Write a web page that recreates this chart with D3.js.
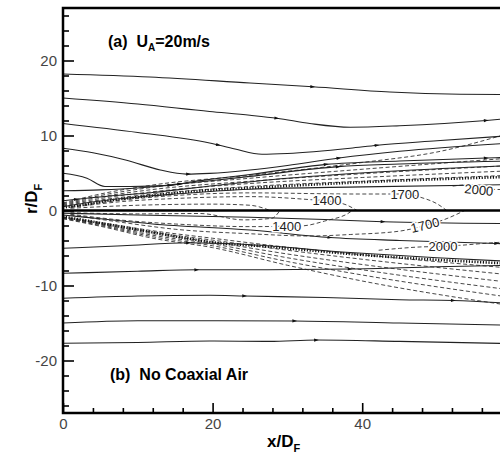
<!DOCTYPE html>
<html>
<head>
<meta charset="utf-8">
<script src="https://cdn.jsdelivr.net/npm/d3@7"></script>
<style>
body { margin: 0; background: #fff; }
svg { display: block; font-family: "Liberation Sans", Arial, sans-serif; }
</style>
</head>
<body>
<div id="chart"></div>
<script>
const W = 500, H = 455;

// tick values (60 lies outside the visible area)
const xMajor = [0, 20, 40];
const xMinor = [4, 8, 12, 16, 24, 28, 32, 36, 44, 48, 52, 56];
const yMajor = [-20, -10, 0, 10, 20];
const yMinor = [-26, -24, -22, -18, -16, -14, -12, -8, -6, -4, -2, 2, 4, 6, 8, 12, 14, 16, 18, 22, 24, 26];

// streamlines, upper half (a) with coaxial air
const sA1 = [[0,18.2],[11.6,17.8],[25,17.0],[33.4,16.5],[43.7,15.8],[53.1,15.5],[60,15.45]];
const sA2 = [[0,15.0],[10,14.2],[19.6,13.2],[25,12.7],[28.6,12.3],[33,11.6],[38.4,11.1],[45,11.3],[56.6,12.0],[60,12.3]];
const sA3 = [[0,11.6],[10,10.4],[19.6,9.0],[23,8.2],[26.6,7.5],[30,7.6],[38.4,8.3],[42,8.7],[50,9.3],[60,10.0]];
const sA4 = [[0,8.3],[4,7.7],[8.5,6.7],[13,5.4],[16.5,4.85],[19.6,4.95],[25,5.4],[30,6.0],[36.9,7.0],[45,7.9],[60,9.0]];
const sA5 = [[0,4.96],[3.2,4.3],[5.6,3.2],[9,3.2],[14.3,3.35],[17,3.8],[20,4.2],[25,4.8],[35.2,6.15],[45,6.6],[56.6,7.0],[60,7.1]];
const sA6 = [[0,2.64],[5,2.75],[10,3.0],[15.6,3.55],[20,4.0],[25,4.55],[36.8,5.85],[45,6.2],[60,6.6]];
const sA7 = [[0,1.3],[1.8,1.5],[6,1.9],[12,2.4],[20,3.3],[30,4.3],[45,5.3],[60,6.0]];
const sJ1 = [[0,0.5],[3,1.0],[8,1.6],[15,2.2],[25,2.83],[40,3.15],[60,3.45]];

// streamlines, lower half (b) no coaxial air
const sL1 = [[0,-0.35],[10,-0.6],[25,-0.9],[35,-1.2],[42.8,-1.5],[60,-1.75]];
const sL2 = [[0,-0.6],[5,-1.1],[12,-1.8],[25,-2.6],[35.7,-3.6],[45,-4.0],[58,-4.4],[60,-4.45]];
const sB1 = [[0,-5.03],[8,-4.7],[16.8,-4.3],[24,-4.5],[38.4,-5.6],[50,-6.3],[60,-6.8]];
const sB2 = [[0,-8.37],[10,-8.1],[17.9,-7.9],[25,-7.9],[38.4,-7.8],[50,-7.5],[60,-7.3]];
const sB3 = [[0,-11.7],[10,-11.4],[19.6,-11.3],[24.3,-11.4],[35,-11.6],[45,-11.9],[52.2,-12.0],[60,-12.4]];
const sB4 = [[0,-15.0],[10,-14.7],[19.6,-14.7],[31,-14.73],[45,-15.0],[60,-15.3]];
const sB5 = [[0,-17.7],[10,-17.6],[19.6,-17.4],[27.6,-17.45],[33.9,-17.27],[45,-17.45],[60,-17.75]];

// arrow positions (x) on each streamline
const arrA1 = [33.4], arrA2 = [28.6, 56.6], arrA3 = [20.8, 42], arrA4 = [16.8, 36.9];
const arrA5 = [14.3, 35.2, 56.6], arrA6 = [15.6, 36.8], arrA7 = [1.8], arrJ1 = [];
const arrL1 = [42.8], arrL2 = [35.7, 58], arrB1 = [16.8], arrB2 = [17.9, 38.4];
const arrB3 = [24.3, 52.2], arrB4 = [31], arrB5 = [33.9];

// stoichiometric (dotted) lines
const dotUpper = [[0,0.4],[3,0.8],[6,1.3],[12,2.0],[18,2.6],[25,3.0],[38.4,3.7],[60,4.5]];
const dotLower = [[0,-0.8],[6.3,-1.9],[12,-2.9],[16.5,-3.7],[19.6,-4.2],[27.2,-4.8],[38.4,-5.8],[60,-7.1]];

// isotherms (dashed), upper
const uf1 = [[0,0.6],[5,1.4],[12,2.2],[25,3.2],[40,3.9],[60,4.7]];
const uf2 = [[0,0.7],[5,1.6],[12,2.5],[25,3.6],[40,4.4],[60,5.3]];
const uf3 = [[0,0.8],[5,1.8],[12,2.8],[25,3.9],[40,4.9],[60,6.0]];
const uf4 = [[0,0.9],[5,2.0],[12,3.1],[25,4.3],[40,5.5],[60,7.0]];
const uf5 = [[0,1.0],[5,2.2],[12,3.4],[25,4.7],[40,6.4],[50,7.8],[60,10.4]];
const ui1 = [[1,0.3],[10,0.7],[20,0.85],[25,0.7],[27.7,0]];
const ui1400 = [[1,0.4],[8,1.2],[15,1.6],[25,1.85],[33,1.45],[36,1.2],[38,0.7],[39.3,0]];
const ui1700 = [[1,0.5],[8,1.4],[15,2.0],[25,2.35],[38.8,2.2],[45.7,2.2],[48,1.7],[50,0.9],[51.3,0]];
const ui2000 = [[52.1,3.25],[53.8,3.4],[55.5,2.9],[58.5,2.8],[60,2.8]];

// isotherms (dashed), lower
const lf1 = [[0,-0.85],[5,-1.6],[12,-2.7],[20,-3.7],[30,-4.9],[40,-5.9],[60,-7.7]];
const lf2 = [[0,-0.9],[5,-1.7],[12,-2.9],[20,-3.95],[30,-5.3],[40,-6.5],[60,-8.6]];
const lf3 = [[0,-0.95],[5,-1.8],[12,-3.1],[20,-4.2],[30,-5.8],[40,-7.2],[60,-9.6]];
const lf4 = [[0,-1.0],[5,-1.9],[12,-3.3],[20,-4.45],[30,-6.3],[40,-7.9],[60,-10.6]];
const lf5 = [[0,-1.05],[5,-2.0],[12,-3.5],[20,-4.7],[30,-6.8],[40,-8.6],[60,-11.6]];
const lf6 = [[0,-1.1],[5,-2.1],[12,-3.7],[20,-4.95],[30,-7.3],[40,-9.4],[60,-12.7]];
const li1 = [[1,-0.3],[10,-0.45],[18.3,-0.4],[24.1,-1.25],[27.9,-1.05],[29,0]];
const li1400 = [[1,-0.5],[8,-1.3],[15,-1.8],[25,-2.15],[29.9,-2.1],[32,-2.05],[35,-1.4],[38.4,-0.2],[38.6,0]];
const li1700 = [[1,-0.6],[8,-1.6],[15,-2.5],[25,-3.1],[33,-3.4],[38.4,-3.2],[45,-2.75],[48.4,-2.0],[51,-1.2],[53.7,0]];
const li2000 = [[42.2,-5.3],[45,-5.05],[48,-4.85],[50.8,-4.8],[53,-4.65],[57.5,-4.3],[60,-4.15]];

// contour labels
const labelText = ["1400", "1700", "2000", "1400", "1700", "2000"];
const labelX = [35.3, 45.7, 55.6, 29.9, 48.4, 50.8];
const labelY = [1.4, 2.2, 2.75, -2.07, -1.93, -4.8];
const labelAngle = [0, 0, 6, 0, -14, 0];

const streams = [
  [sA1, arrA1], [sA2, arrA2], [sA3, arrA3], [sA4, arrA4], [sA5, arrA5], [sA6, arrA6], [sA7, arrA7], [sJ1, arrJ1],
  [sL1, arrL1], [sL2, arrL2], [sB1, arrB1], [sB2, arrB2], [sB3, arrB3], [sB4, arrB4], [sB5, arrB5]
];
const isotherms = [uf1, uf2, uf3, uf4, uf5, ui1, ui1400, ui1700, ui2000,
                   lf1, lf2, lf3, lf4, lf5, lf6, li1, li1400, li1700, li2000];

const x = d3.scaleLinear().domain([0, 60]).range([63, 63 + 60 * 7.48]);
const y = d3.scaleLinear().domain([-27, 27]).range([413, 8]);

const svg = d3.select('#chart').append('svg')
    .attr('width', W)
    .attr('height', H);

svg.append('clipPath').attr('id', 'clip')
  .append('rect')
    .attr('x', x(0)).attr('y', y(27))
    .attr('width', x(60) - x(0)).attr('height', y(-27) - y(27));

const plot = svg.append('g').attr('clip-path', 'url(#clip)');

const line = d3.line()
    .x(d => x(d[0]))
    .y(d => y(d[1]))
    .curve(d3.curveMonotoneX);

plot.append('g').selectAll('path')
  .data(isotherms)
  .enter().append('path')
    .attr('d', line)
    .attr('fill', 'none')
    .attr('stroke', '#333')
    .attr('stroke-width', 0.9)
    .attr('stroke-dasharray', '4,2.5');

plot.append('g').selectAll('path')
  .data([dotUpper, dotLower])
  .enter().append('path')
    .attr('d', line)
    .attr('fill', 'none')
    .attr('stroke', '#111')
    .attr('stroke-width', 2.6)
    .attr('stroke-dasharray', '1.2,1.6');

plot.append('g').selectAll('path')
  .data(streams)
  .enter().append('path')
    .attr('d', d => line(d[0]))
    .attr('fill', 'none')
    .attr('stroke', '#222')
    .attr('stroke-width', 1.1);

// centerline separating the two cases
plot.append('line')
    .attr('x1', x(0)).attr('x2', x(60))
    .attr('y1', y(0)).attr('y2', y(0))
    .attr('stroke', '#000')
    .attr('stroke-width', 2.4);

// contour labels
plot.append('g').selectAll('text')
  .data(labelText)
  .enter().append('text')
    .attr('transform', (d, i) => `translate(${x(labelX[i])},${y(labelY[i])}) rotate(${labelAngle[i]})`)
    .attr('text-anchor', 'middle')
    .attr('dy', '0.35em')
    .attr('font-size', 13)
    .attr('fill', '#222')
    .attr('stroke', '#fff')
    .attr('stroke-width', 3)
    .attr('paint-order', 'stroke')
    .text(d => d);

// arrows along streamlines
function pointAt(pts, xv) {
  let i = 1;
  while (i < pts.length - 1 && pts[i][0] < xv) i++;
  const a = pts[i - 1], b = pts[i];
  const t = (xv - a[0]) / (b[0] - a[0]);
  const px = x(xv), py = y(a[1] + t * (b[1] - a[1]));
  const ang = Math.atan2(y(b[1]) - y(a[1]), x(b[0]) - x(a[0])) * 180 / Math.PI;
  return {px, py, ang};
}
const arrows = [];
streams.forEach(s => s[1].forEach(xv => arrows.push(pointAt(s[0], xv))));

plot.append('g').selectAll('path')
  .data(arrows)
  .enter().append('path')
    .attr('d', 'M-2.5,-1.6L2.2,0L-2.5,1.6Z')
    .attr('transform', d => `translate(${d.px},${d.py}) rotate(${d.ang})`)
    .attr('fill', '#111');

// axes
svg.append('g')
    .attr('transform', `translate(0,${y(-27)})`)
    .call(d3.axisBottom(x).tickValues(xMajor).tickSize(-10).tickPadding(5).tickFormat(d => String(d)));
svg.append('g')
    .attr('transform', `translate(0,${y(-27)})`)
    .call(d3.axisBottom(x).tickValues(xMinor).tickSize(-5).tickFormat(''));
svg.append('g')
    .attr('transform', `translate(${x(0)},0)`)
    .call(d3.axisLeft(y).tickValues(yMajor).tickSize(-11).tickPadding(6).tickFormat(d => String(d)));
svg.append('g')
    .attr('transform', `translate(${x(0)},0)`)
    .call(d3.axisLeft(y).tickValues(yMinor).tickSize(-6).tickFormat(''));

svg.selectAll('.domain').remove();
svg.selectAll('.tick line').attr('stroke', '#000').attr('stroke-width', 1.6);
svg.selectAll('.tick text')
    .attr('font-family', '"Liberation Sans", Arial, sans-serif')
    .attr('font-size', 15)
    .attr('fill', '#444');

// frame
svg.append('rect')
    .attr('x', x(0)).attr('y', y(27))
    .attr('width', x(60) - x(0)).attr('height', y(-27) - y(27))
    .attr('fill', 'none')
    .attr('stroke', '#000')
    .attr('stroke-width', 2.5);

// axis titles
const xt = svg.append('text')
    .attr('x', 267).attr('y', 447)
    .attr('font-size', 17).attr('font-weight', 'bold');
xt.append('tspan').text('x/D');
xt.append('tspan').attr('font-size', 11).attr('dy', 5).text('F');

const yt = svg.append('text')
    .attr('transform', 'translate(37,214) rotate(-90)')
    .attr('font-size', 17).attr('font-weight', 'bold');
yt.append('tspan').text('r/D');
yt.append('tspan').attr('font-size', 11).attr('dy', 5).text('F');

// case labels
const ta = svg.append('text')
    .attr('x', 108).attr('y', 47)
    .attr('font-size', 16).attr('font-weight', 'bold');
ta.append('tspan').text('(a)\u00a0\u00a0U');
ta.append('tspan').attr('font-size', 10).attr('dy', 4).text('A');
ta.append('tspan').attr('dy', -4).text('=20m/s');

svg.append('text')
    .attr('x', 110).attr('y', 380)
    .attr('font-size', 16).attr('font-weight', 'bold')
    .text('(b)\u00a0\u00a0No Coaxial Air');
</script>
</body>
</html>
